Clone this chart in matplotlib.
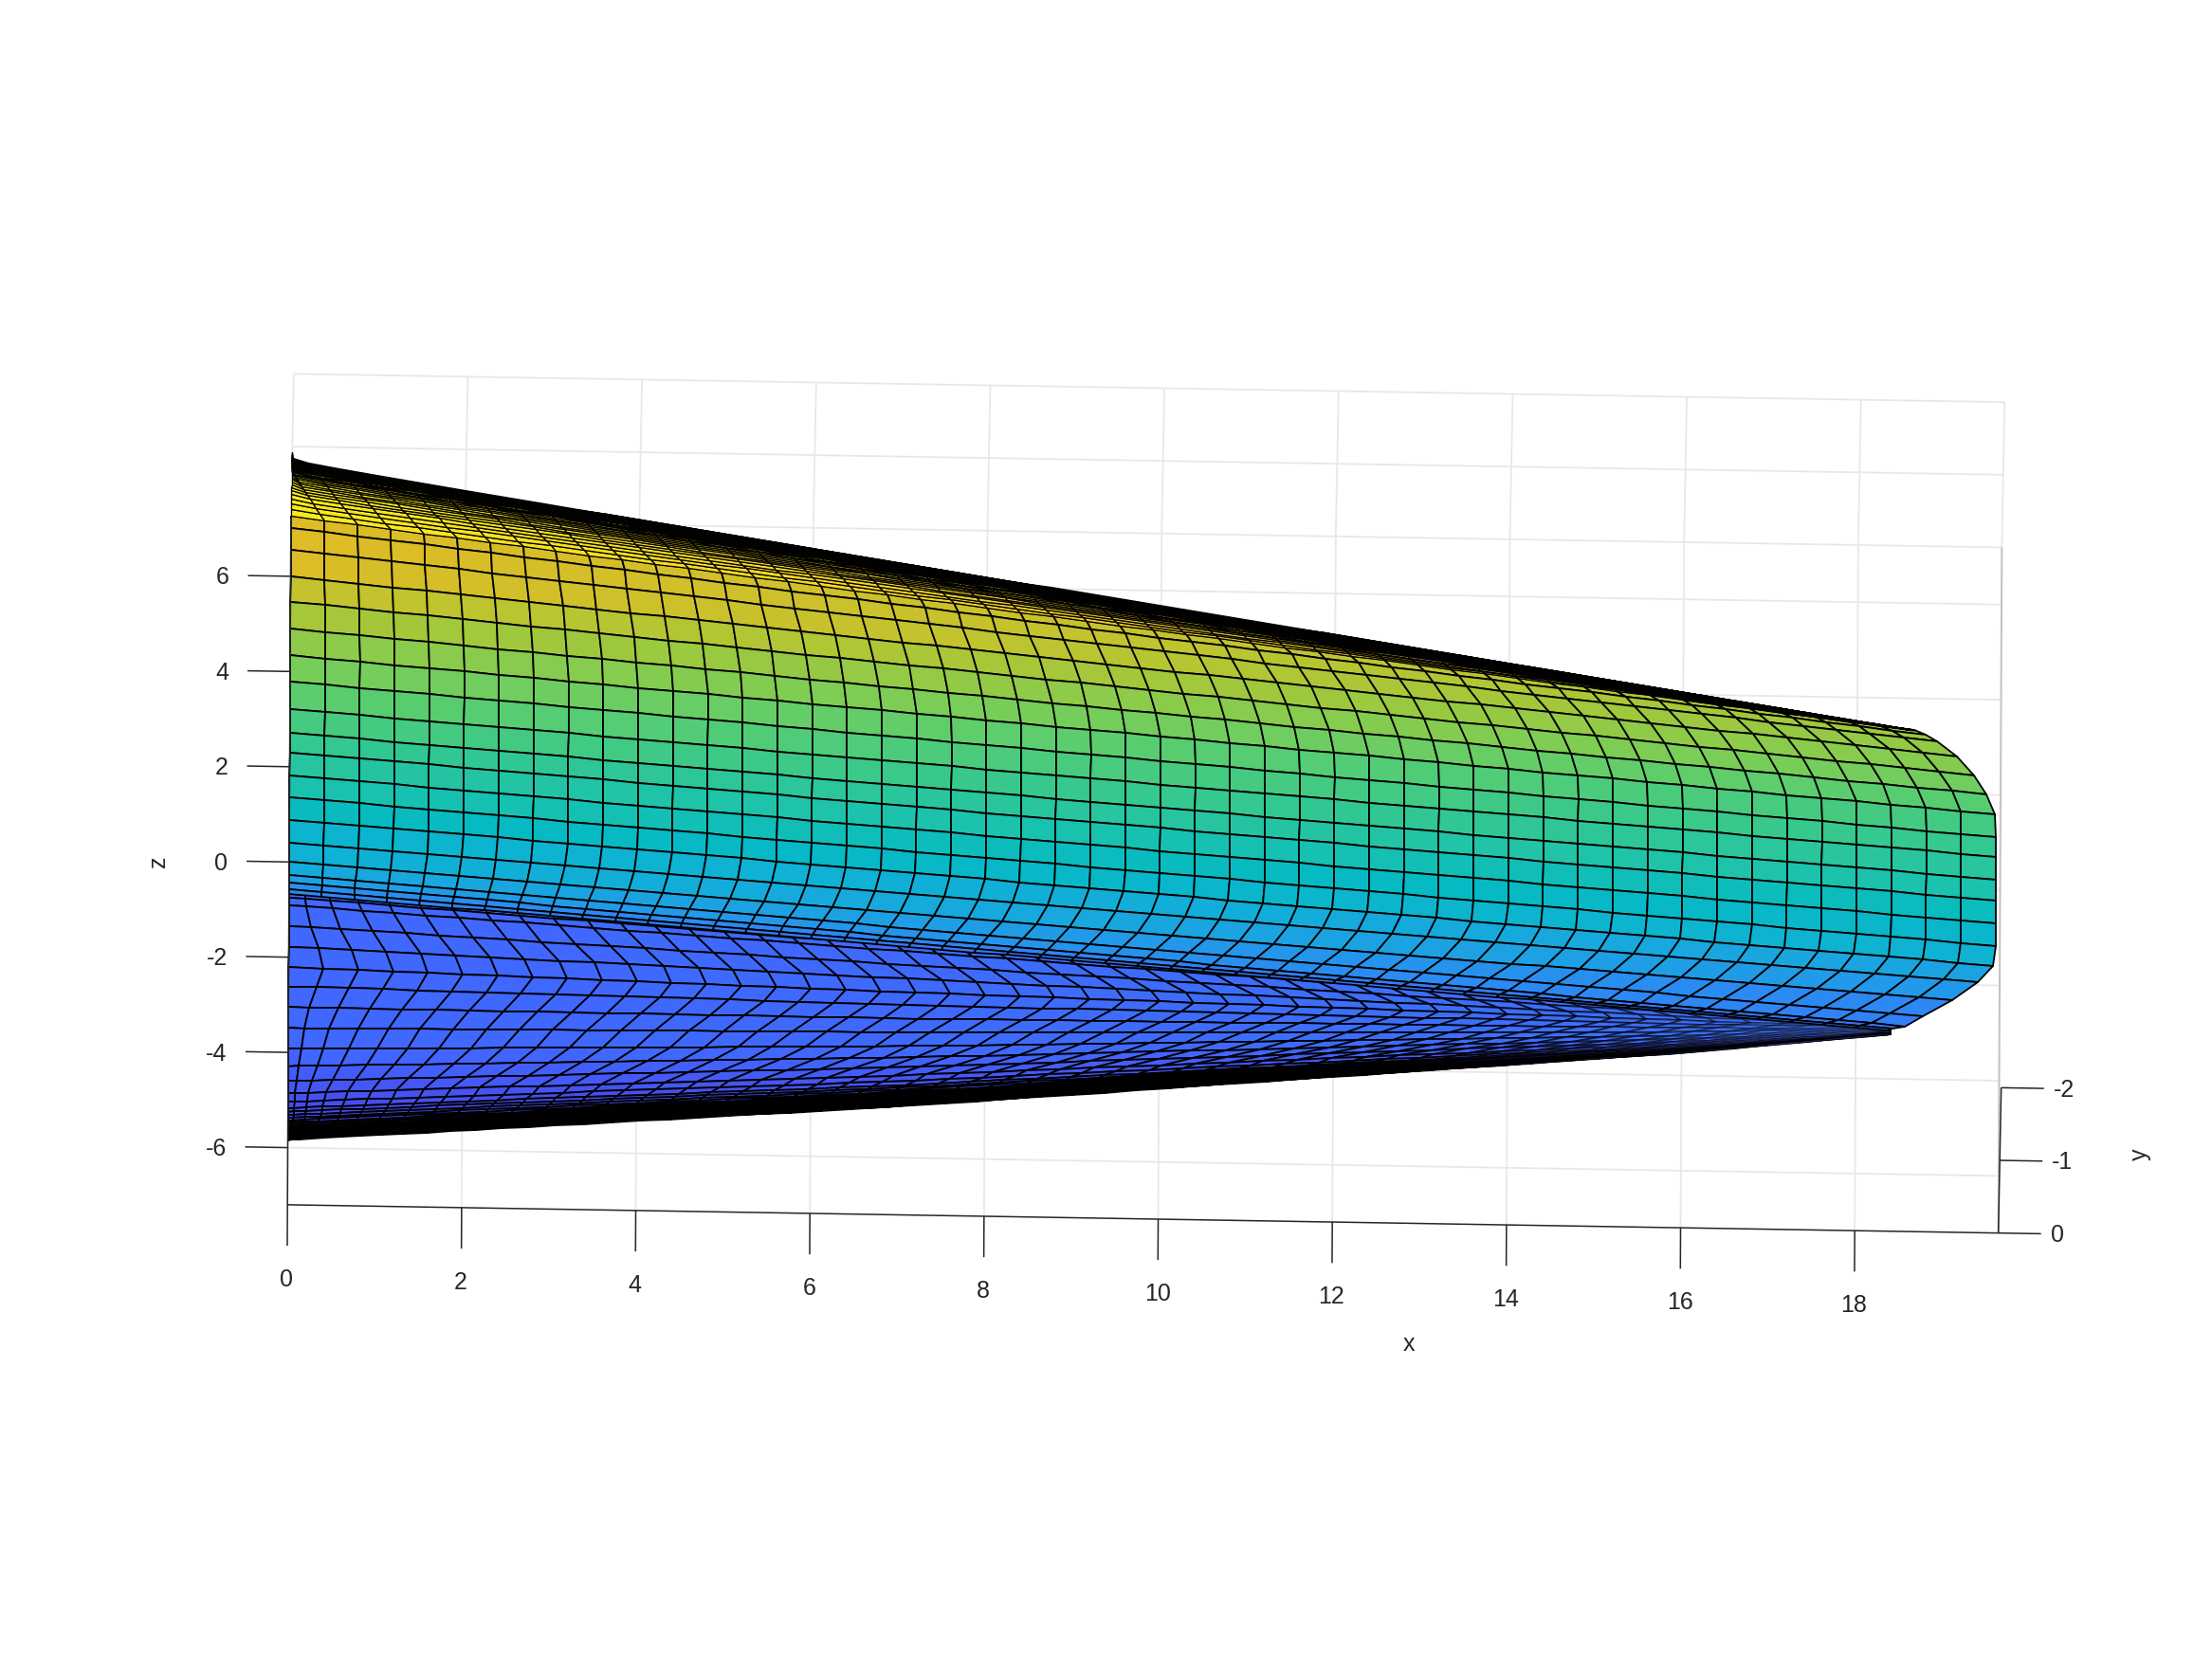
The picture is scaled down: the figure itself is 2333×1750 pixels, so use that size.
"""Nose-cone surface mesh seen from below, MATLAB-style box drawn by hand.

One 2D axes in overview pixels; _proj() is the fixed 3D view of the reference.
"""
import matplotlib

matplotlib.use("Agg")
import matplotlib.pyplot as plt
import numpy as np
from matplotlib.colors import LinearSegmentedColormap

plt.rcParams["font.family"] = ["Liberation Sans", "DejaVu Sans"]

X_MAX, Z_MIN, Z_MAX = 19.65, -7.2, 7.2
x_ticks = [0, 2, 4, 6, 8, 10, 12, 14, 16, 18]
z_ticks = [-6, -4, -2, 0, 2, 4, 6]
y_ticks = [0, -1, -2]

# body stations along x
stations = [0.0, 0.4, 0.8, 1.2, 1.6, 2.0, 2.4, 2.8, 3.2, 3.6, 4.0, 4.4, 4.8, 5.2, 5.6, 6.0, 6.4,
            6.8, 7.2, 7.6, 8.0, 8.4, 8.8, 9.2, 9.6, 10.0, 10.4, 10.8, 11.2, 11.6, 12.0, 12.4,
            12.8, 13.2, 13.6, 14.0, 14.4, 14.8, 15.2, 15.6, 16.0, 16.4, 16.8, 17.2, 17.6, 18.0,
            18.4, 18.8, 19.2, 19.6]
stations_under = stations + [20.0, 20.4, 20.8, 21.2, 21.6, 22.0, 22.4, 22.8, 23.2, 23.6, 24.0, 24.4]

# upper patch: one entry per lengthwise mesh line, kink line down to the fold
z_root = [7.27, 7.02, 6.56, 6.0, 5.47, 4.90, 4.34, 3.79, 3.21, 2.71, 2.30, 1.82, 1.36, 0.89,
          0.41, 0.0, -0.27, -0.43, -0.58, -0.67]
z_nose = [3.33, 3.24, 3.10, 2.80, 2.41, 2.01, 1.59, 1.11, 0.70, 0.22, -0.22, -0.70, -1.17, -1.59,
          -1.93, -2.33, -2.67, -2.89, -2.95, -2.98]
lean_nose = [0.94, 0.81, 0.68, 0.45, 0.26, 0.11, 0.01, 0, 0, 0, 0, 0, 0, 0.03, 0.2, 0.49, 0.83,
             1.04, 1.18, 1.24]
# colour value per cell row, at the root and at the nose
c_root = [0.78, 0.78, 0.77, 0.72, 0.67, 0.63, 0.59, 0.55, 0.51, 0.47, 0.44, 0.41, 0.37, 0.32,
          0.30, 0.27, 0.24, 0.20, 0.18]
c_nose = [0.67, 0.65, 0.63, 0.61, 0.58, 0.54, 0.50, 0.47, 0.44, 0.41, 0.37, 0.33, 0.30, 0.25,
          0.22, 0.18, 0.17, 0.15, 0.14]

# dense band above the kink line: fraction of band height, silhouette y at each end
band_t = [0, 0.10, 0.19, 0.27, 0.34, 0.40, 0.45, 0.50, 0.54, 0.58, 0.62, 0.655, 0.685, 0.715,
          0.74, 0.76, 0.78, 0.80, 0.82, 0.835, 0.85, 0.865, 0.88, 0.895, 0.91, 0.92, 0.93,
          0.94, 0.95, 0.96, 0.97, 0.98, 0.99, 1.0]
band_y_root, band_y_nose = -0.87, -0.02

# lower patch
under_eta = [0, 0.014, 0.046, 0.13, 0.215, 0.298, 0.376, 0.46, 0.545, 0.63, 0.70, 0.76, 0.81,
             0.845, 0.87, 0.885, 0.898, 0.91, 0.92, 0.929, 0.937, 0.944, 0.95, 0.955, 0.96,
             0.964, 0.968, 0.972, 0.975, 0.978, 0.981, 0.984, 0.987, 0.990, 0.993, 0.996, 1.0]
under_lean = [0.7, 0.7, 0.6, 0.35, 0.1, 0, 0.15, 0.4, 0.7, 1.0, 1.4, 1.9, 2.4, 2.6, 2.8, 2.9, 3.0,
              3.1, 3.2, 3.3, 3.4, 3.5, 3.6, 3.7, 3.8, 3.9, 4.0, 4.1, 4.2, 4.3, 4.4, 4.5, 4.55,
              4.6, 4.65, 4.7, 4.75]
edge_x = [0, 7, 16, 18, 18.4, 19.6]
edge_z = [-5.84, -4.93, -3.53, -3.14, -3.06, -2.98]

surface_colors = [(0.0, "#3e26a8"), (0.07, "#483ee1"), (0.12, "#4264ff"), (0.18, "#2d87f5"),
                  (0.24, "#1ea0e4"), (0.30, "#0fb2d4"), (0.36, "#05bac3"), (0.42, "#1ec3aa"),
                  (0.48, "#37c88c"), (0.54, "#55cd73"), (0.60, "#7dcd55"), (0.66, "#a0c83c"),
                  (0.72, "#c3c32d"), (0.78, "#debc26"), (0.86, "#f5d723"), (1.0, "#f9fb14")]
cmap = LinearSegmentedColormap.from_list("surf", surface_colors)


def _proj(x, y, z):
    x, y, z = np.asarray(x, float), np.asarray(y, float), np.asarray(z, float)
    return 205 + 61.72 * x - y + 0.17 * z, 611 + 1.02 * x + 51.5 * y - 33.75 * z


def _line(ax, x, y, z, **kw):
    sx, sy = _proj(x, y, z)
    ax.plot(sx, sy, solid_capstyle="butt", **kw)


fig = plt.figure(figsize=(23.33, 17.5), dpi=100)
ax = fig.add_axes([0, 0, 1, 1])
ax.set_xlim(0, 1568)
ax.set_ylim(1176, 0)
ax.axis("off")

# --- back wall (y=0) and ceiling ---------------------------------------------
grid = dict(color="#e8e8e8", lw=1.3, zorder=1)
for z in z_ticks:
    _line(ax, [0, X_MAX], [0, 0], [z, z], **grid)
for x in x_ticks:
    _line(ax, [x, x], [0, 0], [Z_MIN, Z_MAX], **grid)
    _line(ax, [x, x], [0, -2], [Z_MAX, Z_MAX], **grid)
for y in y_ticks:
    _line(ax, [0, X_MAX], [y, y], [Z_MAX, Z_MAX], **grid)
_line(ax, [X_MAX, X_MAX], [-2, 0], [Z_MAX, Z_MAX], **grid)
_line(ax, [X_MAX, X_MAX], [0, 0], [Z_MIN, Z_MAX], color="#c4c4c4", lw=1.5, zorder=1)

# --- lower patch --------------------------------------------------------------
xs = np.array(stations_under)
lean = np.array(under_lean)[:, None]
Xu = np.minimum(xs * (xs + 0.2) / (xs + 0.2 + lean), 18.4)
top = np.interp(Xu, [0, 19.6], [z_root[-1], z_nose[-1]])
bot = np.interp(Xu, edge_x, edge_z)
Zu = top + np.array(under_eta)[:, None] * (bot - top)
Cu = 0.125 - 0.055 * np.clip((np.array(under_eta)[:-1, None] - 0.6) / 0.4, 0, 1) * np.ones_like(xs[:-1])
Cu = Cu + 0.02 * xs[:-1] / 19.6
sx, sy = _proj(Xu, 0 * Xu, Zu)
# mesh lines fade where the lower patch gets thin near the nose
edge_rgba = np.zeros((Cu.size, 4))
edge_rgba[:, 3] = np.clip(1.15 - (Xu[:-1, :-1].ravel() - 11) / 8, 0.3, 1)
ax.pcolormesh(sx, sy, Cu, zorder=2, shading="flat", edgecolors=edge_rgba, linewidth=1.3,
              antialiased=True, cmap=cmap, vmin=0, vmax=1)

style = dict(edgecolors="black", linewidth=1.3, antialiased=True, cmap=cmap, vmin=0, vmax=1)

# --- upper patch --------------------------------------------------------------
xs = np.array(stations)
f = xs / 19.6
Xa = xs - np.array(lean_nose)[:, None] * f
Za = np.array(z_root)[:, None] + (np.array(z_nose) - np.array(z_root))[:, None] * f
c_r, c_n = np.array(c_root)[:, None], np.array(c_nose)[:, None]
Ca = c_r + (c_n - c_r) * (xs[:-1] / 19.6)
sx, sy = _proj(Xa, 0 * Xa, Za)
ax.pcolormesh(sx, sy, Ca, zorder=3, shading="flat", **style)

# --- dense band over the top edge --------------------------------------------
t = np.array(band_t)[:, None]
Xb = np.maximum(Xa[0] - t * (0.1 + 0.65 * (1 - f)) * xs / (xs + 0.2), 0)
Yb = t * (band_y_root + (band_y_nose - band_y_root) * f)
Zb = Za[0] * np.ones_like(t)
Cb = (0.93 + (0.70 - 0.93) * xs[:-1] / 19.6) * np.ones((len(band_t) - 1, 1))
sx, sy = _proj(Xb, Yb, Zb)
ax.pcolormesh(sx, sy, Cb, zorder=3, shading="flat", edgecolors="black", linewidth=0.9,
              antialiased=True, cmap=cmap, vmin=0, vmax=1)

# --- axes lines, ticks, labels ------------------------------------------------
axis = dict(color="#262626", lw=1.1, zorder=4)
_line(ax, [0, X_MAX], [0, 0], [Z_MIN, Z_MIN], **axis)
_line(ax, [0, 0], [0, 0], [Z_MIN, Z_MAX], **axis)
_line(ax, [X_MAX, X_MAX], [0, -2], [Z_MIN, Z_MIN], **axis)
label = dict(color="#262626", fontsize=18, ha="center", va="center", zorder=5)
for x in x_ticks:
    _line(ax, [x, x], [0, 0], [Z_MIN, Z_MIN - 0.86], **axis)
    sx, sy = _proj(x, 0, Z_MIN)
    ax.text(sx - 0.5, sy + 53, str(x), **label)
for z in z_ticks:
    _line(ax, [0, -0.49], [0, 0], [z, z], **axis)
    sx, sy = _proj(0, 0, z)
    ax.text(sx - 43.5, sy + 1, str(z), color="#262626", fontsize=18, ha="right", va="center")
for y in y_ticks:
    _line(ax, [X_MAX, X_MAX + 0.49], [y, y], [Z_MIN, Z_MIN], **axis)
    sx, sy = _proj(X_MAX, y, Z_MIN)
    ax.text(sx + 37, sy + 1.5, str(y), color="#262626", fontsize=18, ha="left", va="center")
ax.text(999, 953, "x", **label)
ax.text(112, 611, "z", rotation=90, **label)
ax.text(1517, 818, "y", rotation=90, **label)

fig.savefig("out.png", dpi=100)
